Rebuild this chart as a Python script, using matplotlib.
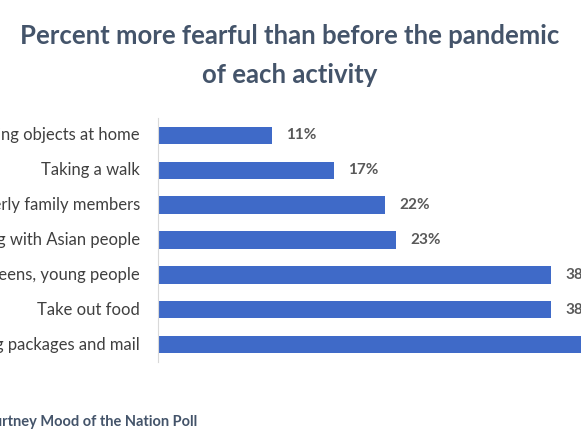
import matplotlib
matplotlib.use("Agg")
import matplotlib.pyplot as plt
from matplotlib.transforms import blended_transform_factory

categories = ["Touching objects at home", "Taking a walk", "Visiting elderly family members",
              "Interacting with Asian people", "Being near teens, young people",
              "Take out food", "Receiving packages and mail"]
values = [11, 17, 22, 23, 38, 38, 46]

plt.rcParams['font.family'] = ['Lato', 'DejaVu Sans']
W, H = 581, 436
fig = plt.figure(figsize=(W/100, H/100), dpi=100)
ax = fig.add_axes([158/W, 1-362/H, (W-158)/W, 244/H])
y = list(range(len(categories)))[::-1]
ax.barh(y, values, height=0.5, color="#3F6AC8", clip_on=False)
for yi, v in zip(y, values):
    ax.text(v + 1.4, yi, f"{v}%", va="center", ha="left", fontsize=11,
            fontweight="bold", color="#595959", clip_on=False)
tr = blended_transform_factory(fig.transFigure, ax.transData)
for yi, c in zip(y, categories):
    ax.text(140/W, yi, c, transform=tr, ha="right", va="center", fontsize=12, color="#404040")
ax.set_yticks([])
ax.set_xlim(0, 40.95)
ax.set_ylim(-0.5, 6.5)
ax.set_xticks([])
for s in ["top", "right", "bottom"]:
    ax.spines[s].set_visible(False)
ax.spines["left"].set_color("#D9D9D9")
fig.text(290/W, 1-36/H, "Percent more fearful than before the pandemic", ha="center", va="center",
         fontsize=18.5, fontweight="bold", color="#44546A")
fig.text(290/W, 1-75/H, "of each activity", ha="center", va="center",
         fontsize=18.5, fontweight="bold", color="#44546A")
fig.text(197/W, 1-422/H, "Source: Penn State McCourtney Mood of the Nation Poll", ha="right", va="center",
         fontsize=10.5, fontweight="bold", color="#44546A")
fig.savefig("out.png", dpi=100)
